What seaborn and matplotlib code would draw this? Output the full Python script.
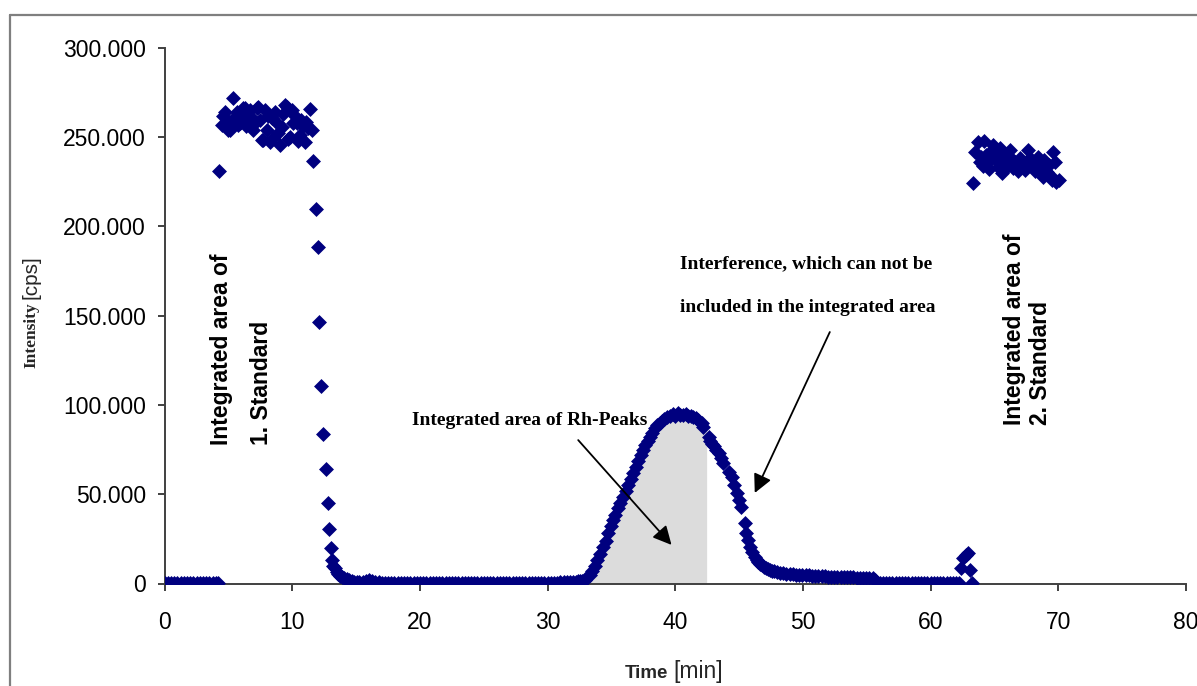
import numpy as np
import pandas as pd
import matplotlib
matplotlib.use("Agg")
import matplotlib.pyplot as plt
import seaborn as sns
from matplotlib.ticker import FuncFormatter
from matplotlib.lines import Line2D

# ---------------- data (time [min], intensity [cps]) ----------------
base1_t = [0.0, 0.25, 0.5, 0.75, 1.0, 1.25, 1.5, 1.75, 2.0, 2.25, 2.5, 2.75, 3.0, 3.25,
           3.5, 3.75, 4.0, 4.2]
base1_v = [300, 300, 300, 300, 300, 300, 300, 300, 300, 300, 300, 300, 300, 300,
           300, 300, 300, 300]

std1_t = [4.28, 4.46, 4.60, 4.72, 4.85, 4.98, 5.10, 5.25, 5.37, 5.50, 5.63, 5.76,
          5.90, 6.02, 6.15, 6.28, 6.40, 6.55, 6.68, 6.81, 6.94, 7.07, 7.20, 7.33,
          7.46, 7.60, 7.72, 7.85, 7.98, 8.11, 8.25, 8.38, 8.50, 8.64, 8.77, 8.90,
          9.03, 9.16, 9.29, 9.42, 9.55, 9.68, 9.81, 9.95, 10.07, 10.20, 10.33, 10.45,
          10.60, 10.70, 10.85, 11.00, 11.10, 11.25, 11.38, 11.50]
std1_v = [231000, 256700, 262000, 264000, 259000, 253900, 254000, 258000, 271700, 261000,
          264000, 256700, 258000, 262000, 266000, 266000, 256000, 259500, 265000, 260500,
          254000, 258000, 266000, 267000, 259500, 248300, 248300, 265000, 253900, 262000,
          247400, 260500, 249300, 264000, 257700, 252000, 245500, 255700, 263000, 268000,
          267000, 249000, 250200, 265000, 257700, 262000, 257700, 248000, 251000, 259500,
          256000, 247400, 258600, 255000, 265700, 253900]

drop_t = [11.61, 11.82, 11.98, 12.11, 12.24, 12.42, 12.61, 12.76, 12.89, 13.02, 13.10,
          13.22, 13.34, 13.47, 13.60, 13.75, 13.9, 14.05, 14.25, 14.45, 14.65, 14.85, 15.05]
drop_v = [236600, 209500, 188600, 146600, 110700, 83700, 64100, 45200, 30300, 19900, 13000,
          10000, 8500, 6500, 5200, 4200, 3500, 2900, 2300, 1800, 1400, 1100, 1000]

base2_t = [15.25, 15.5, 15.75, 16.0, 16.25, 16.5, 16.75, 17.0, 17.25, 17.5, 17.75, 18.0,
           18.25, 18.5, 18.75, 19.0, 19.25, 19.5, 19.75, 20.0, 20.25, 20.5, 20.75, 21.0,
           21.25, 21.5, 21.75, 22.0, 22.25, 22.5, 22.75, 23.0, 23.25, 23.5, 23.75, 24.0,
           24.25, 24.5, 24.75, 25.0, 25.25, 25.5, 25.75, 26.0, 26.25, 26.5, 26.75, 27.0,
           27.25, 27.5, 27.75, 28.0, 28.25, 28.5, 28.75, 29.0, 29.25, 29.5, 29.75, 30.0,
           30.25, 30.5, 30.75, 31.0, 31.25]
base2_v = [900, 800, 1200, 1900, 1200, 700, 600, 500, 500, 500, 500, 500,
           500, 500, 500, 500, 500, 500, 500, 500, 500, 500, 500, 500,
           500, 500, 500, 500, 500, 500, 500, 500, 500, 500, 500, 500,
           500, 500, 500, 500, 500, 500, 500, 500, 500, 500, 500, 500,
           500, 500, 500, 500, 500, 500, 500, 500, 500, 500, 500, 500,
           500, 550, 550, 600, 600]

peak_t = [31.5, 31.75, 32.0, 32.2, 32.4, 32.55, 32.7, 32.9, 33.1, 33.3, 33.5, 33.7, 33.9,
          34.1, 34.35, 34.55, 34.75, 34.95, 35.13, 35.3, 35.5, 35.7, 35.91, 36.1, 36.3,
          36.5, 36.7, 36.9, 37.1, 37.3, 37.48, 37.65, 37.82, 38.0, 38.2, 38.4, 38.6, 38.78,
          38.95, 39.15, 39.35, 39.57, 39.8, 40.0, 40.2, 40.4, 40.6, 40.8, 41.0, 41.2, 41.4,
          41.6, 41.8, 42.05, 42.2, 42.6, 42.75, 42.9, 43.05, 43.22, 43.4, 43.55, 43.74,
          44.2, 44.4, 44.6, 44.8, 45.0, 45.18, 45.44, 45.57, 45.7, 45.85, 46.0, 46.2,
          46.36, 46.5, 46.65, 46.8, 46.95, 47.1, 47.25, 47.4, 47.55, 47.7, 47.95, 48.2,
          48.45, 48.7, 48.95, 49.2, 49.45, 49.7, 49.95, 50.2, 50.45, 50.7, 50.95, 51.2,
          51.45, 51.7, 51.95, 52.2, 52.45, 52.7, 52.95, 53.2, 53.45, 53.7, 53.95, 54.2,
          54.45, 54.7, 54.95, 55.2, 55.45, 55.6, 55.75]
peak_v = [600, 700, 800, 1000, 1200, 1400, 1600, 2200, 3500, 5000, 7200, 10000, 13200,
          16500, 20600, 24000, 28000, 32000, 35600, 38500, 42000, 45300, 48600, 52000, 55200,
          58500, 61700, 65000, 68500, 71800, 74700, 77500, 79800, 82200, 84500, 86800, 88500, 89700,
          91000, 92300, 93200, 93800, 94800, 94000, 95200, 94500, 94300, 94800, 93800, 94000, 93400,
          92500, 91500, 89700, 87500, 82000, 80000, 78000, 77000, 74700, 73000, 70500, 67300,
          62500, 59800, 55000, 50500, 46500, 43000, 33700, 28100, 24500, 20600, 17500, 15000,
          13200, 12000, 11000, 10200, 9500, 8800, 8200, 7600, 7200, 6800, 6300, 6000,
          5700, 5500, 5300, 5100, 4950, 4800, 4700, 4600, 4500, 4400, 4300, 4200,
          4100, 4000, 3900, 3850, 3800, 3700, 3650, 3600, 3500, 3450, 3400, 3300,
          3250, 3200, 3100, 3000, 2900, 1800, 800]

base3_t = [56.0, 56.25, 56.5, 56.75, 57.0, 57.25, 57.5, 57.75, 58.0, 58.25, 58.5, 58.75,
           59.0, 59.25, 59.5, 59.75, 60.0, 60.25, 60.5, 60.75, 61.0, 61.25, 61.5, 61.75,
           62.0, 62.2]
base3_v = [400, 400, 400, 400, 400, 400, 400, 400, 400, 400, 400, 400,
           400, 400, 400, 400, 400, 400, 400, 400, 400, 400, 400, 400,
           400, 400]

spike_t = [62.4, 62.55, 62.75, 62.93, 63.06, 63.2]
spike_v = [8500, 14100, 15800, 16900, 7600, 300]

std2_t = [63.32, 63.5, 63.7, 63.85, 63.97, 64.1, 64.2, 64.35, 64.5, 64.6, 64.75, 64.9,
          65.05, 65.15, 65.3, 65.4, 65.55, 65.7, 65.85, 65.95, 66.05, 66.2, 66.3, 66.45,
          66.6, 66.7, 66.85, 67.0, 67.1, 67.25, 67.4, 67.5, 67.6, 67.75, 67.9, 68.0,
          68.15, 68.3, 68.4, 68.55, 68.7, 68.8, 68.9, 69.05, 69.15, 69.3, 69.4, 69.5,
          69.6, 69.75, 69.85, 70.05]
std2_v = [224000, 241800, 247000, 236000, 239000, 234000, 248000, 240000, 236000, 232000,
          242000, 245500, 238000, 237000, 233000, 243700, 229700, 240900, 236000, 233400,
          238000, 242700, 238000, 232500, 236000, 234300, 231000, 238000, 236200, 233000,
          231500, 236000, 242700, 238000, 235000, 233400, 231000, 236000, 239000, 232500,
          230000, 227800, 237000, 234000, 230600, 234300, 228000, 226000, 241800, 236000,
          225000, 226000]

# integrated (shaded) area of the Rh peak
shade_t = [33.0, 33.3, 33.5, 33.7, 33.9, 34.1, 34.35, 34.75, 35.13, 35.5, 35.91, 36.3,
           36.7, 37.1, 37.48, 37.82, 38.2, 38.6, 38.95, 39.35, 39.9, 41.4, 41.8, 42.45]
shade_v = [0, 3500, 5800, 8600, 11800, 15000, 19000, 26500, 34000, 40500, 47000, 53700,
           60200, 67000, 73200, 78300, 83000, 87000, 89600, 91500, 92500, 92500, 90000, 86000]

x_ticks = [0, 10, 20, 30, 40, 50, 60, 70, 80]
y_ticks = [0, 50000, 100000, 150000, 200000, 250000, 300000]

# ---------------- figure ----------------
sns.set_theme(style="white")
plt.rcParams["font.family"] = ["Liberation Sans", "DejaVu Sans"]

fig = plt.figure(figsize=(11.97, 6.86), dpi=100)
ax = fig.add_axes([164.7 / 1197, 1 - 583.5 / 686, (1186 - 164.7) / 1197, (583.5 - 47.7) / 686])

df = pd.DataFrame({
    "t": np.concatenate([base1_t, std1_t, drop_t, base2_t, peak_t, base3_t, spike_t, std2_t]),
    "v": np.concatenate([base1_v, std1_v, drop_v, base2_v, peak_v, base3_v, spike_v, std2_v]),
})

ax.fill_between(shade_t, shade_v, 0, color="#DCDCDC", linewidth=0, zorder=1)
sns.scatterplot(data=df, x="t", y="v", marker="D", s=58, color="#00007F",
                linewidth=0, ax=ax, zorder=3, legend=False)

ax.set_xlim(0, 80)
ax.set_ylim(0, 300000)
ax.set_xticks(x_ticks)
ax.set_yticks(y_ticks)
ax.yaxis.set_major_formatter(FuncFormatter(lambda v, p: f"{v:,.0f}".replace(",", ".")))
ax.xaxis.set_major_formatter(FuncFormatter(lambda v, p: f"{v:.0f}"))
ax.set_xlabel("")
ax.set_ylabel("")
for s in ["top", "right"]:
    ax.spines[s].set_visible(False)
for s in ["left", "bottom"]:
    ax.spines[s].set_color("#404040")
    ax.spines[s].set_linewidth(1.4)
ax.tick_params(axis="both", which="major", direction="out", length=5, width=1.2,
               color="#202020", labelsize=16.5, labelcolor="black")
ax.tick_params(axis="y", pad=8.5, left=True)
ax.tick_params(axis="x", pad=15, bottom=True)
ax.grid(False)
ax.set_facecolor("white")

# ---------------- annotations ----------------
bold_sans = dict(family=["Liberation Sans", "DejaVu Sans"], fontweight="bold", fontsize=16.5,
                 color="black", rotation=90, ha="center", va="bottom")
ax.text(4.42, 77500, "Integrated area of", **bold_sans)
ax.text(7.62, 77500, "1. Standard", **bold_sans)
ax.text(66.6, 88700, "Integrated area of", **bold_sans)
ax.text(68.63, 88700, "2. Standard", **bold_sans)

serif_b = dict(family=["Liberation Serif", "DejaVu Serif"], fontweight="bold", fontsize=14,
               color="black", ha="left", va="center")
ax.text(19.35, 91500, "Integrated area of Rh-Peaks", **serif_b)
ax.text(40.35, 178900, "Interference, which can not be", **serif_b)
ax.text(40.35, 154800, "included in the integrated area", **serif_b)

arrow = dict(arrowstyle="-|>", mutation_scale=28, lw=1.3, color="black",
             shrinkA=0, shrinkB=0)
ax.annotate("", xy=(39.7, 21600), xytext=(32.39, 80300), arrowprops=arrow, zorder=4)
ax.annotate("", xy=(46.22, 50700), xytext=(52.1, 140800), arrowprops=arrow, zorder=4)

# axis labels
fig.text(31 / 1197, 1 - 368 / 686, "Intensity", rotation=90, ha="center", va="bottom",
         family=["Liberation Serif", "DejaVu Serif"], fontweight="bold", fontsize=12.5)
fig.text(31 / 1197, 1 - 299 / 686, "[cps]", rotation=90, ha="center", va="bottom",
         family=["Liberation Sans", "DejaVu Sans"], fontsize=15)
fig.text(668 / 1197, 1 - 678 / 686, "Time", ha="right", va="baseline",
         family=["Liberation Sans", "DejaVu Sans"], fontweight="bold", fontsize=13.5)
fig.text(673 / 1197, 1 - 678 / 686, "[min]", ha="left", va="baseline",
         family=["Liberation Sans", "DejaVu Sans"], fontsize=16.5)

# chart-area border (top and left edges visible)
fig.add_artist(Line2D([9.5 / 1197, 9.5 / 1197], [-0.05, 1 - 15 / 686], color="#7F7F7F", lw=1.6))
fig.add_artist(Line2D([9.5 / 1197, 1.05], [1 - 15 / 686, 1 - 15 / 686], color="#7F7F7F", lw=1.6))

fig.savefig("out.png", dpi=100, facecolor="white")
